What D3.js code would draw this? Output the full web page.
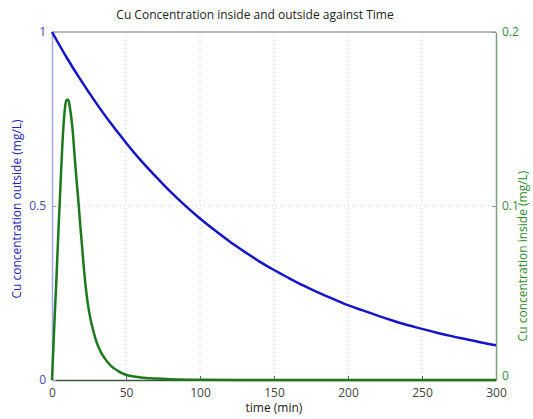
<!DOCTYPE html>
<html lang="en">
<head>
  <meta charset="UTF-8">
  <title>Cu Concentration</title>
  <script src="https://d3js.org/d3.v7.min.js"></script>
  <style>
    body { margin: 0; background: #fff; }
    text { font-family: "Open Sans", sans-serif; }
  </style>
</head>
<body>
  <svg width="533" height="419"></svg>

  <script>
    // outside concentration (left axis), read every 10 min
    const timeOut = [0, 10, 20, 30, 40, 50, 60, 70, 80, 90, 100, 110, 120, 130, 140, 150,
      160, 170, 180, 190, 200, 210, 220, 230, 240, 250, 260, 270, 280, 290, 300];
    const cuOutside = [1.0, 0.926, 0.858, 0.795, 0.736, 0.682, 0.631, 0.585, 0.541, 0.501, 0.464,
      0.430, 0.398, 0.369, 0.341, 0.316, 0.293, 0.271, 0.251, 0.233, 0.215, 0.200, 0.185,
      0.171, 0.158, 0.147, 0.136, 0.126, 0.117, 0.108, 0.100];

    // inside concentration (right axis)
    const timeIn = [0, 1, 2, 3, 4, 5, 6, 7, 8, 9, 10, 11, 12, 13, 14, 15, 16, 17, 18, 19, 20,
      22, 24, 26, 28, 30, 33, 36, 40, 45, 50, 60, 70, 80, 100, 150, 200, 250, 300];
    const cuInside = [0, 0.020, 0.040, 0.058, 0.079, 0.098, 0.117, 0.135, 0.149, 0.158, 0.161,
      0.161, 0.157, 0.151, 0.143, 0.132, 0.121, 0.111, 0.101, 0.090, 0.080,
      0.060, 0.045, 0.035, 0.028, 0.022, 0.016, 0.012, 0.008, 0.005, 0.003, 0.0015,
      0.0008, 0.0004, 0.0001, 0, 0, 0, 0];

    const xTicks = [0, 50, 100, 150, 200, 250, 300];
    const leftTicks = [0, 0.5, 1];
    const rightTicks = [0, 0.1, 0.2];

    const margin = { top: 32, right: 37, bottom: 39, left: 52 };
    const W = 533, H = 419;
    const width = W - margin.left - margin.right;
    const height = H - margin.top - margin.bottom;

    const svg = d3.select('svg');
    const g = svg.append('g').attr('transform', `translate(${margin.left},${margin.top})`);

    const x = d3.scaleLinear().domain([0, 300]).range([0, width]);
    const yL = d3.scaleLinear().domain([0, 1]).range([height, 0]);
    const yR = d3.scaleLinear().domain([0, 0.2]).range([height, 0]);

    // grid
    g.append('g').selectAll('line')
      .data(xTicks.slice(1, -1))
      .enter().append('line')
      .attr('x1', d => x(d)).attr('x2', d => x(d))
      .attr('y1', 0).attr('y2', height)
      .attr('stroke', '#c8c8c8').attr('stroke-dasharray', '1,3');
    g.append('line')
      .attr('x1', 0).attr('x2', width)
      .attr('y1', yL(0.5)).attr('y2', yL(0.5))
      .attr('stroke', '#c8c8c8').attr('stroke-dasharray', '1,3');

    // box
    g.append('line').attr('x1', 0).attr('x2', width).attr('y1', 0).attr('y2', 0)
      .attr('stroke', '#777');

    // bottom axis
    const xAxis = g.append('g')
      .attr('transform', `translate(0,${height})`)
      .call(d3.axisBottom(x).tickValues(xTicks).tickSizeInner(-4).tickSizeOuter(0).tickPadding(8));
    xAxis.select('.domain').attr('stroke', '#3a5a3a').attr('stroke-width', 1.5);
    xAxis.selectAll('.tick line').attr('stroke', '#666');
    xAxis.selectAll('text').attr('font-size', 12).attr('fill', '#444')
      .attr('font-family', '"Open Sans", sans-serif');

    // left axis
    const lAxis = g.append('g')
      .call(d3.axisLeft(yL).tickValues(leftTicks).tickFormat(d3.format('')).tickSizeInner(-4).tickSizeOuter(0).tickPadding(6));
    lAxis.select('.domain').attr('stroke', '#a6a6e6').attr('stroke-width', 1.5);
    lAxis.selectAll('.tick line').attr('stroke', '#a6a6e6');
    lAxis.selectAll('text').attr('font-size', 12).attr('fill', '#4848a8')
      .attr('font-family', '"Open Sans", sans-serif');

    // right axis
    const rAxis = g.append('g')
      .attr('transform', `translate(${width},0)`)
      .call(d3.axisRight(yR).tickValues(rightTicks).tickFormat(d3.format('')).tickSizeInner(-4).tickSizeOuter(0).tickPadding(6));
    rAxis.select('.domain').attr('stroke', '#7aa07a').attr('stroke-width', 1.5);
    rAxis.selectAll('.tick line').attr('stroke', '#7aa07a');
    rAxis.selectAll('text').attr('font-size', 12).attr('fill', '#3d8a3d')
      .attr('font-family', '"Open Sans", sans-serif');
    // lift the bottom "0" so it clears the "300" below
    rAxis.selectAll('.tick').filter(d => d === 0).select('text').attr('dy', '-0.05em');

    // lines
    const lineOut = d3.line().curve(d3.curveMonotoneX)
      .x((d, i) => x(timeOut[i])).y(d => yL(d));
    const lineIn = d3.line().curve(d3.curveMonotoneX)
      .x((d, i) => x(timeIn[i])).y(d => yR(d));

    g.append('path').datum(cuInside)
      .attr('d', lineIn)
      .attr('fill', 'none').attr('stroke', '#1c7a1c').attr('stroke-width', 2.5);

    g.append('path').datum(cuOutside)
      .attr('d', lineOut)
      .attr('fill', 'none').attr('stroke', '#1414c8').attr('stroke-width', 2.5);

    // labels
    svg.append('text')
      .attr('x', 255).attr('y', 19)
      .attr('text-anchor', 'middle')
      .attr('font-size', 12).attr('fill', '#222')
      .text('Cu Concentration inside and outside against Time');

    svg.append('text')
      .attr('x', margin.left + width / 2).attr('y', 412)
      .attr('text-anchor', 'middle')
      .attr('font-size', 12).attr('fill', '#222')
      .text('time (min)');

    svg.append('text')
      .attr('transform', 'translate(21,209) rotate(-90)')
      .attr('text-anchor', 'middle')
      .attr('font-size', 12).attr('fill', '#2222b8')
      .text('Cu concentration outside (mg/L)');

    svg.append('text')
      .attr('transform', 'translate(527,256) rotate(-90)')
      .attr('text-anchor', 'middle')
      .attr('font-size', 12).attr('fill', '#2f8a2f')
      .text('Cu concentration inside (mg/L)');
  </script>
</body>
</html>
